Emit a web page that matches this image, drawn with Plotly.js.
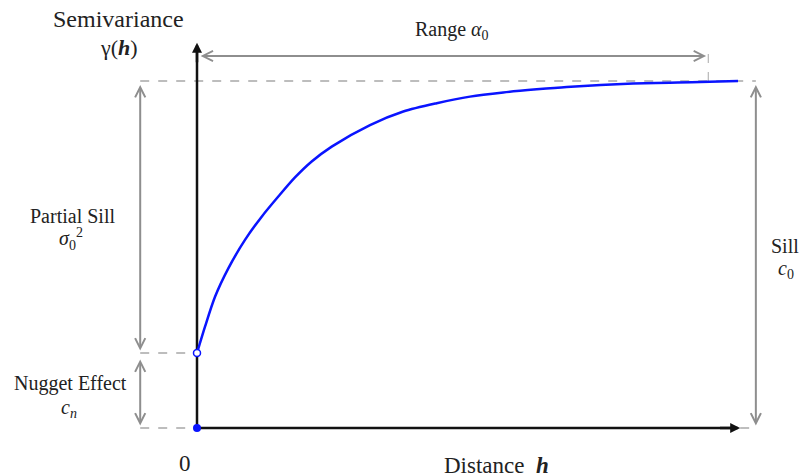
<!DOCTYPE html>
<html><head><meta charset="utf-8">
<script src="https://cdn.plot.ly/plotly-3.0.1.min.js"></script>
<style>html,body{margin:0;padding:0;background:#fff}
#note{position:absolute;left:250px;top:150px;font:11px monospace;color:#fff;width:10px;height:10px}</style>
</head><body>
<div id="chart" style="width:802px;height:474px"></div>
<div id="note"></div>
<script>
// ---- data ----
const distance = [0, 0.148, 0.333, 0.579, 0.887, 1.196, 1.503, 1.811, 2.120, 2.490, 3.198, 3.813, 4.431, 5.046, 5.662, 6.279, 6.834, 8.06, 9.30, 10.0];
const semivariance = [0.216, 0.292, 0.378, 0.460, 0.542, 0.609, 0.667, 0.722, 0.768, 0.811, 0.873, 0.912, 0.936, 0.955, 0.967, 0.976, 0.983, 0.993, 0.997, 1.0];
const nugget = 0.216;
const sill = 1.0;
const rangeA0 = 9.45;
const axisEnd = [10.04, 1.11];
const tickLabels = ["0"];
const labelTexts = ["Semivariance", "γ(<b><i>h</i></b>)", "Range <i>α</i><sub>0</sub>",
  "Partial Sill", "<i>σ</i><sub>0</sub><sup>2</sup>", "Nugget Effect", "<i>c<sub>n</sub></i>",
  "Sill", "<i>c</i><sub>0</sub>", "Distance  <b><i>h</i></b>"];

const W = 802, H = 474;
const leftX = -1.05, rightX = 10.33, rangeY = 1.072, rangeTop = 1.084, gap = 0.007;
const gray = '#8e8e8e', dashGray = '#a8a8a8', black = '#111';
const serifFamily = 'Liberation Serif';
function P(x, y) { return {xref: 'paper', yref: 'paper', x: x / W, y: 1 - y / H}; }
function label(text, x, y, size) {
  return Object.assign(P(x, y), {text: text, showarrow: false, xanchor: 'center', yanchor: 'middle',
    font: {family: serifFamily, size: size || 20, color: '#222'}});
}
function arrow(x, y, ax, ay, opts) {
  return Object.assign({xref: 'x', yref: 'y', axref: 'x', ayref: 'y', x: x, y: y, ax: ax, ay: ay,
    text: '', showarrow: true, arrowcolor: gray, arrowwidth: 2, arrowhead: 5, arrowsize: 1,
    startarrowhead: 5, startarrowsize: 1, arrowside: 'end+start'}, opts || {});
}
function dash(x0, y0, x1, y1, w) {
  return {type: 'line', xref: 'x', yref: 'y', x0: x0, y0: y0, x1: x1, y1: y1, layer: 'below',
    line: {color: dashGray, width: w || 1.5, dash: 'dash'}};
}
const traces = [
  {x: distance, y: semivariance, mode: 'lines', line: {color: '#0a14ff', width: 2.5, shape: 'spline', smoothing: 0.8}, hoverinfo: 'skip'},
  {x: [distance[0]], y: [nugget], mode: 'markers', marker: {symbol: 'circle', size: 7, color: '#fff', line: {color: '#0a14ff', width: 1.5}}},
  {x: [0], y: [0], mode: 'markers', marker: {symbol: 'circle', size: 8, color: '#0a14ff'}}
];
const shapes = [
  dash(leftX, sill, rightX, sill), dash(leftX, nugget, 0, nugget), dash(leftX, 0, 0, 0),
  dash(axisEnd[0], 0, rightX, 0), dash(rangeA0, sill, rangeA0, rangeTop, 1),
  {type: 'line', xref: 'x', yref: 'y', x0: 0, y0: 0, x1: 0, y1: axisEnd[1] - 0.02, layer: 'below', line: {color: black, width: 2.5}},
  {type: 'line', xref: 'x', yref: 'y', x0: 0, y0: 0, x1: axisEnd[0] - 0.15, y1: 0, layer: 'below', line: {color: black, width: 2.5}}
];
const annotations = [
  arrow(0, axisEnd[1], 0, axisEnd[1] - 0.06, {arrowcolor: black, arrowwidth: 2.5, arrowhead: 2, arrowsize: 0.8, arrowside: 'end'}),
  arrow(axisEnd[0], 0, axisEnd[0] - 0.4, 0, {arrowcolor: black, arrowwidth: 2.5, arrowhead: 2, arrowsize: 0.8, arrowside: 'end'}),
  arrow(rangeA0 - 0.04, rangeY, 0.04, rangeY),
  arrow(leftX, nugget + gap, leftX, sill - gap),
  arrow(leftX, gap, leftX, nugget - gap * 2),
  arrow(rightX, gap, rightX, sill - gap),
  label(labelTexts[0], 118, 19, 24),
  label(labelTexts[1], 119, 48, 22),
  label(labelTexts[2], 452, 30, 20),
  label(labelTexts[3], 72, 216, 20),
  label(labelTexts[4], 71, 239, 20),
  label(labelTexts[5], 70, 383, 20),
  label(labelTexts[6], 69, 408, 20),
  label(labelTexts[7], 785, 246, 20),
  label(labelTexts[8], 786, 269, 20),
  label(tickLabels[0], 185, 463, 23),
  label(labelTexts[9], 496, 465, 23)
];
const layout = {
  width: W, height: H, margin: {l: 0, r: 0, t: 0, b: 0},
  paper_bgcolor: '#fff', plot_bgcolor: '#fff', showlegend: false,
  xaxis: {range: [-197 / 54.1, (W - 197) / 54.1], visible: false, fixedrange: true},
  yaxis: {range: [-(H - 428) / 347, 428 / 347], visible: false, fixedrange: true},
  shapes: shapes, annotations: annotations
};
Plotly.newPlot('chart', traces, layout, {displayModeBar: false, staticPlot: true}).then(function (gd) {
  // force a style/layout pass so the serif face is applied to the SVG labels
  var t = document.querySelectorAll('.annotation-text');
  var n = 0;
  for (var i = 0; i < t.length; i++) { n += (t[i].getAttribute('style') || '').length; }
  document.getElementById('note').textContent = '\u00a0';
  return n;
});
</script>
</body></html>
